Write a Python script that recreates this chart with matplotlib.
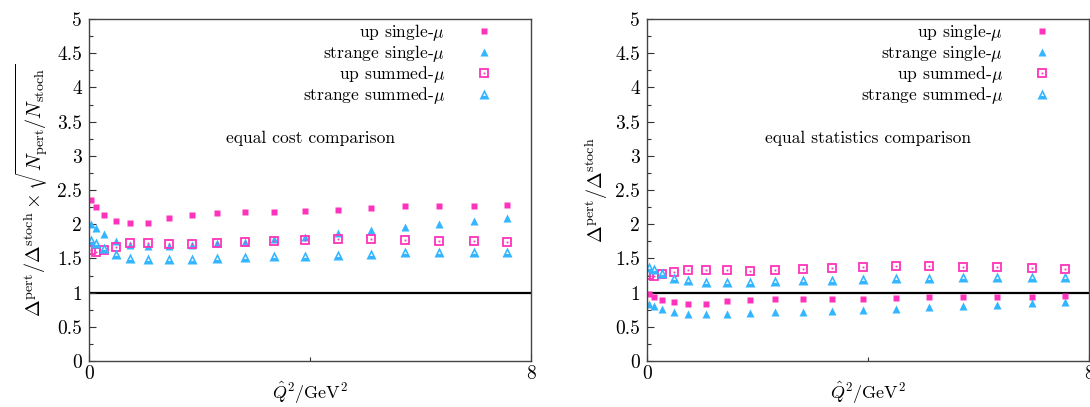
import matplotlib
matplotlib.use("Agg")
import matplotlib.pyplot as plt
from matplotlib.ticker import MultipleLocator, FixedLocator, FuncFormatter

plt.rcParams['font.family'] = 'serif'
plt.rcParams['font.serif'] = ['cmr10']
plt.rcParams['mathtext.fontset'] = 'cm'
plt.rcParams['axes.formatter.use_mathtext'] = True

PINK = '#ff33bb'
BLUE = '#33b5ff'

# Q^2 values (GeV^2)
q2 = [0.04, 0.13, 0.27, 0.49, 0.75, 1.07, 1.44, 1.86, 2.32, 2.82,
      3.35, 3.91, 4.50, 5.10, 5.72, 6.33, 6.96, 7.57]

# equal cost comparison
cost_up_single = [2.35, 2.25, 2.14, 2.05, 2.02, 2.02, 2.09, 2.14, 2.16, 2.18,
                  2.18, 2.19, 2.21, 2.24, 2.26, 2.26, 2.26, 2.28]
cost_s_single = [2.01, 1.95, 1.85, 1.75, 1.69, 1.68, 1.68, 1.70, 1.72, 1.74,
                 1.78, 1.82, 1.87, 1.91, 1.96, 2.01, 2.05, 2.09]
cost_up_summed = [1.62, 1.59, 1.63, 1.67, 1.73, 1.72, 1.71, 1.71, 1.72, 1.74,
                  1.75, 1.77, 1.79, 1.79, 1.77, 1.76, 1.75, 1.74]
cost_s_summed = [1.77, 1.73, 1.65, 1.57, 1.51, 1.49, 1.49, 1.49, 1.51, 1.52,
                 1.53, 1.54, 1.55, 1.57, 1.59, 1.59, 1.59, 1.59]

# equal statistics comparison
stat_up_single = [0.98, 0.93, 0.89, 0.86, 0.84, 0.84, 0.87, 0.89, 0.90, 0.91,
                  0.91, 0.91, 0.92, 0.93, 0.94, 0.94, 0.94, 0.95]
stat_s_single = [0.83, 0.80, 0.76, 0.72, 0.69, 0.68, 0.69, 0.70, 0.71, 0.72,
                 0.73, 0.75, 0.76, 0.79, 0.80, 0.82, 0.85, 0.86]
stat_up_summed = [1.26, 1.24, 1.27, 1.30, 1.33, 1.33, 1.33, 1.32, 1.33, 1.35,
                  1.36, 1.38, 1.39, 1.39, 1.37, 1.37, 1.36, 1.35]
stat_s_summed = [1.38, 1.34, 1.28, 1.21, 1.18, 1.16, 1.15, 1.15, 1.17, 1.18,
                 1.19, 1.20, 1.21, 1.22, 1.23, 1.23, 1.23, 1.23]

labels = [r'up single-$\mu$', r'strange single-$\mu$',
          r'up summed-$\mu$', r'strange summed-$\mu$']


def draw_panel(ax, up1, s1, upn, sn, note, ylabel):
    ax.axhline(1, color='black', lw=1.6, zorder=1)
    h1, = ax.plot(q2, up1, ls='none', marker='s', ms=4.5, color=PINK, mec='none')
    h2, = ax.plot(q2, s1, ls='none', marker='^', ms=5.5, color=BLUE, mec='none')
    h3a, = ax.plot(q2, upn, ls='none', marker='s', ms=5.5, mfc='none', mec=PINK, mew=1.3)
    h3b, = ax.plot(q2, upn, ls='none', marker='s', ms=1.3, color=PINK, mec='none')
    h4a, = ax.plot(q2, sn, ls='none', marker='^', ms=7.5, color=BLUE, mec='none')
    h4b, = ax.plot(q2, sn, ls='none', marker='^', ms=2.2, color='#dff2ff', mec='none')

    ax.legend([h1, h2, (h3a, h3b), (h4a, h4b)], labels, markerfirst=False,
              frameon=False, loc='upper right', bbox_to_anchor=(0.913, 0.99),
              borderaxespad=0, borderpad=0, handlelength=1.0, handletextpad=1.7,
              labelspacing=0.0, fontsize=12.6)

    ax.text(0.5, 0.652, note, transform=ax.transAxes, ha='center', va='center',
            fontsize=12.6)

    ax.set_xlim(0, 8)
    ax.set_ylim(0, 5)
    ax.xaxis.set_major_locator(FixedLocator([0, 8]))
    ax.xaxis.set_minor_locator(FixedLocator([4]))
    ax.yaxis.set_major_locator(MultipleLocator(0.5))
    ax.yaxis.set_minor_locator(MultipleLocator(0.25))
    ax.yaxis.set_major_formatter(FuncFormatter(lambda v, p: '%g' % v))
    ax.xaxis.set_major_formatter(FuncFormatter(lambda v, p: '%g' % v))
    ax.tick_params(which='both', direction='in', top=False, right=False,
                   labelsize=14, width=0.8, color='#333333')
    ax.tick_params(which='major', length=5)
    ax.tick_params(axis='y', which='major', pad=5)
    ax.tick_params(axis='x', which='major', pad=3)
    ax.tick_params(which='minor', length=3)
    for sp in ax.spines.values():
        sp.set_linewidth(1.0)
        sp.set_color('#444444')

    ax.set_xlabel(r'$\hat{Q}^2/{\rm GeV}^2$', fontsize=13, labelpad=-2)
    ax.set_ylabel(ylabel, fontsize=14.5, labelpad=4)


fig = plt.figure(figsize=(10.9, 4.07), dpi=100)
W, H = 1090, 407
ax1 = fig.add_axes([89 / W, (H - 361) / H, 442 / W, 342 / H])
ax2 = fig.add_axes([647 / W, (H - 361) / H, 442 / W, 342 / H])

draw_panel(ax1, cost_up_single, cost_s_single, cost_up_summed, cost_s_summed,
           'equal cost comparison',
           r'$\Delta^{\rm pert}/\Delta^{\rm stoch}\times\sqrt{N_{\rm pert}/N_{\rm stoch}}$')
draw_panel(ax2, stat_up_single, stat_s_single, stat_up_summed, stat_s_summed,
           'equal statistics comparison',
           r'$\Delta^{\rm pert}/\Delta^{\rm stoch}$')

fig.savefig('out.png', dpi=100)
